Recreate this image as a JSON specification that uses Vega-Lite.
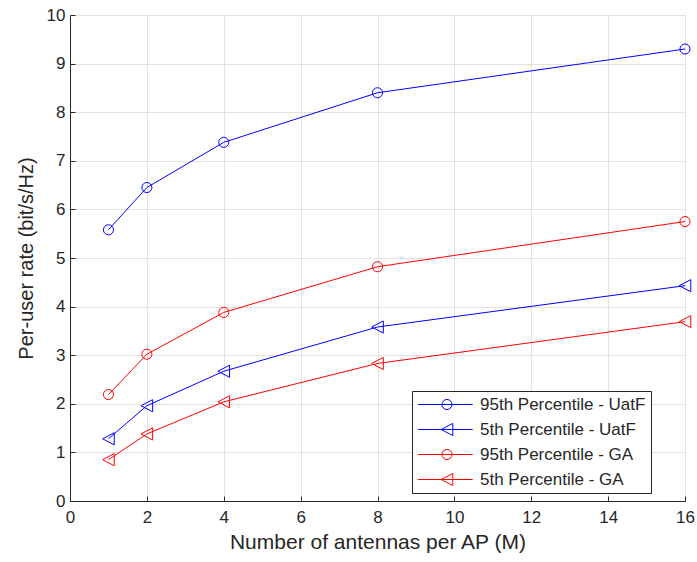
{
  "$schema": "https://vega.github.io/schema/vega-lite/v6.json",
  "width": 615,
  "height": 486,
  "autosize": {"type": "none"},
  "padding": {"left": 70, "top": 15, "right": 12, "bottom": 61},
  "background": "white",
  "config": {
    "view": {"stroke": null},
    "font": "Liberation Sans",
    "axis": {
      "domainColor": "#262626",
      "tickColor": "#262626",
      "gridColor": "#e2e2e2",
      "labelColor": "#262626",
      "titleColor": "#262626",
      "labelFontSize": 17,
      "titleFontSize": 21,
      "titleFontWeight": "normal",
      "tickSize": -5,
      "labelPadding": 10,
      "labelFlush": false,
      "labelOverlap": false
    },
    "legend": {
      "labelFontSize": 17,
      "labelColor": "#262626",
      "symbolSize": 196,
      "symbolStrokeWidth": 1,
      "symbolOpacity": 1,
      "labelOffset": 46,
      "rowPadding": 7,
      "padding": 5,
      "fillColor": "white",
      "strokeColor": "#262626",
      "labelLimit": 300
    }
  },
  "data": {
    "values": [
      {"M": 1, "rate": 5.58, "series": "95th Percentile - UatF"},
      {"M": 2, "rate": 6.45, "series": "95th Percentile - UatF"},
      {"M": 4, "rate": 7.38, "series": "95th Percentile - UatF"},
      {"M": 8, "rate": 8.4, "series": "95th Percentile - UatF"},
      {"M": 16, "rate": 9.3, "series": "95th Percentile - UatF"},
      {"M": 1, "rate": 1.28, "series": "5th Percentile - UatF"},
      {"M": 2, "rate": 1.96, "series": "5th Percentile - UatF"},
      {"M": 4, "rate": 2.67, "series": "5th Percentile - UatF"},
      {"M": 8, "rate": 3.58, "series": "5th Percentile - UatF"},
      {"M": 16, "rate": 4.43, "series": "5th Percentile - UatF"},
      {"M": 1, "rate": 2.19, "series": "95th Percentile - GA"},
      {"M": 2, "rate": 3.02, "series": "95th Percentile - GA"},
      {"M": 4, "rate": 3.88, "series": "95th Percentile - GA"},
      {"M": 8, "rate": 4.82, "series": "95th Percentile - GA"},
      {"M": 16, "rate": 5.75, "series": "95th Percentile - GA"},
      {"M": 1, "rate": 0.85, "series": "5th Percentile - GA"},
      {"M": 2, "rate": 1.38, "series": "5th Percentile - GA"},
      {"M": 4, "rate": 2.04, "series": "5th Percentile - GA"},
      {"M": 8, "rate": 2.83, "series": "5th Percentile - GA"},
      {"M": 16, "rate": 3.69, "series": "5th Percentile - GA"}
    ]
  },
  "encoding": {
    "x": {
      "field": "M",
      "type": "quantitative",
      "scale": {"domain": [0, 16], "nice": false, "zero": false},
      "axis": {"values": [0, 2, 4, 6, 8, 10, 12, 14, 16], "title": "Number of antennas per AP (M)", "titlePadding": 6, "labelPadding": 13}
    },
    "y": {
      "field": "rate",
      "type": "quantitative",
      "scale": {"domain": [0, 10], "nice": false},
      "axis": {"values": [0, 1, 2, 3, 4, 5, 6, 7, 8, 9, 10], "title": "Per-user rate (bit/s/Hz)", "titlePadding": 10, "titleFontSize": 20}
    }
  },
  "layer": [
    {
      "mark": {"type": "point", "filled": false, "strokeWidth": 1, "opacity": 0},
      "encoding": {
        "color": {
          "field": "series", "type": "nominal",
          "scale": {"domain": ["95th Percentile - UatF", "5th Percentile - UatF", "95th Percentile - GA", "5th Percentile - GA"], "range": ["#0000ff", "#0000ff", "#ff0000", "#ff0000"]},
          "legend": {"title": null, "orient": "none", "legendX": 342, "legendY": 376, "symbolOpacity": 1, "encode": {"symbols": {"update": {"opacity": {"value": 1}, "strokeOpacity": {"value": 1}}}}}
        },
        "shape": {
          "field": "series", "type": "nominal",
          "scale": {
            "domain": ["95th Percentile - UatF", "5th Percentile - UatF", "95th Percentile - GA", "5th Percentile - GA"],
            "range": [
              "M-1.07,0L6.74,0M2.35,0A0.72,0.72 0 1,0 3.79,0A0.72,0.72 0 1,0 2.35,0",
              "M-1.07,0L6.74,0M2.24,0L3.9,-0.87L3.9,0.87Z",
              "M-1.07,0L6.74,0M2.35,0A0.72,0.72 0 1,0 3.79,0A0.72,0.72 0 1,0 2.35,0",
              "M-1.07,0L6.74,0M2.24,0L3.9,-0.87L3.9,0.87Z"
            ]
          },
          "legend": {"title": null, "orient": "none", "legendX": 342, "legendY": 376, "symbolOpacity": 1, "encode": {"symbols": {"update": {"opacity": {"value": 1}, "strokeOpacity": {"value": 1}}}}}
        }
      }
    },
    {
      "mark": {"type": "line", "strokeWidth": 1},
      "encoding": {
        "color": {
          "field": "series", "type": "nominal",
          "scale": {"domain": ["95th Percentile - UatF", "5th Percentile - UatF", "95th Percentile - GA", "5th Percentile - GA"], "range": ["#0000ff", "#0000ff", "#ff0000", "#ff0000"]},
          "legend": null
        }
      }
    },
    {
      "transform": [{"filter": "indexof(datum.series, '95th') === 0"}],
      "mark": {"type": "point", "filled": false, "strokeWidth": 1, "size": 196, "shape": "M-0.72,0A0.72,0.72 0 1,0 0.72,0A0.72,0.72 0 1,0 -0.72,0", "opacity": 1},
      "encoding": {
        "color": {
          "field": "series", "type": "nominal",
          "scale": {"domain": ["95th Percentile - UatF", "5th Percentile - UatF", "95th Percentile - GA", "5th Percentile - GA"], "range": ["#0000ff", "#0000ff", "#ff0000", "#ff0000"]},
          "legend": null
        }
      }
    },
    {
      "transform": [{"filter": "indexof(datum.series, '5th') === 0"}],
      "mark": {"type": "point", "filled": false, "strokeWidth": 1, "size": 196, "shape": "M-0.83,0L0.83,-0.87L0.83,0.87Z", "opacity": 1},
      "encoding": {
        "color": {
          "field": "series", "type": "nominal",
          "scale": {"domain": ["95th Percentile - UatF", "5th Percentile - UatF", "95th Percentile - GA", "5th Percentile - GA"], "range": ["#0000ff", "#0000ff", "#ff0000", "#ff0000"]},
          "legend": null
        }
      }
    }
  ]
}
